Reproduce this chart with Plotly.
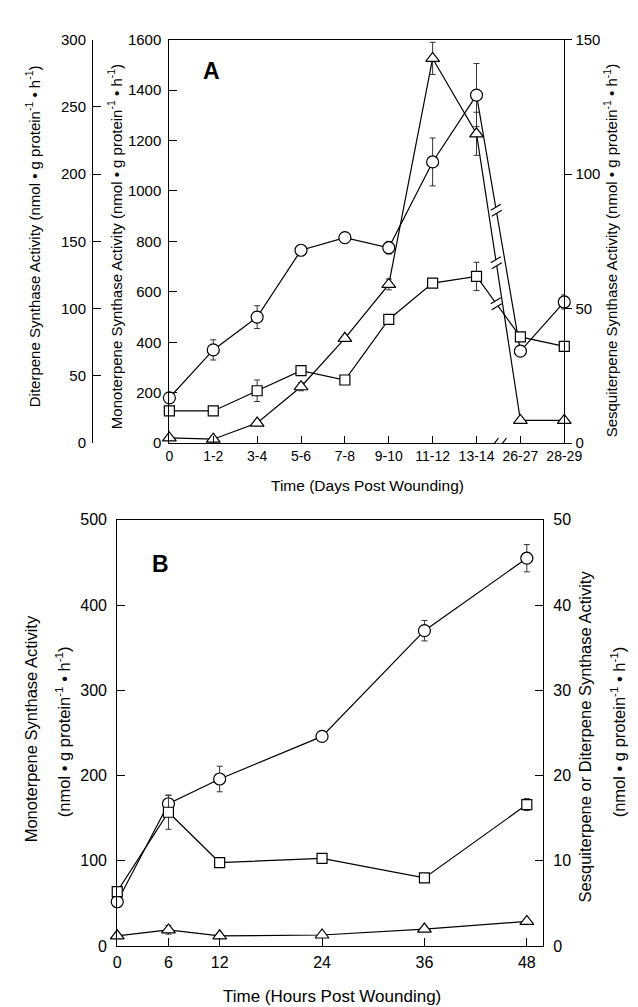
import plotly.graph_objects as go

# ---------------- data ----------------
days = ["0", "1-2", "3-4", "5-6", "7-8", "9-10", "11-12", "13-14", "26-27", "28-29"]
mono_A = [180, 370, 500, 765, 815, 775, 1115, 1380, 365, 560]
mono_A_err = [0, 40, 45, 0, 0, 25, 95, 125, 0, 28]
sesqui_A = [2, 1.5, 7.5, 21, 39, 59, 143, 115, 8.5, 8.5]
sesqui_A_err = [0, 0, 0, 1.5, 0, 2, 6, 8, 0, 0]
diter_A = [24, 24, 39, 54, 47, 92, 119, 124, 79, 72]
diter_A_err = [0, 0, 8, 0, 0, 0, 3, 10.5, 0, 0]

hours = [0, 6, 12, 24, 36, 48]
mono_B = [52, 167, 196, 246, 370, 455]
mono_B_err = [0, 10, 15, 0, 12, 16]
diter_B = [6.4, 15.7, 9.8, 10.3, 8.0, 16.6]
diter_B_err = [0, 2.0, 0, 0, 0, 0.7]
sesqui_B = [1.2, 1.9, 1.2, 1.3, 2.0, 2.9]
sesqui_B_err = [0, 0.5, 0, 0, 0.3, 0]

W, H = 638, 1007
FONT = "Liberation Sans, Arial, Helvetica, sans-serif"
UNIT = "(nmol • g protein<sup>-1</sup> • h<sup>-1</sup>)"


def px(x):
    return x / W


def py(y):
    return 1 - y / H


xi = list(range(len(days)))

fig = go.Figure()


def add(x, y, err, sym, xa, ya, name, size=10):
    fig.add_trace(go.Scatter(
        x=x, y=y, name=name, xaxis=xa, yaxis=ya, mode="lines+markers",
        line=dict(color="black", width=1.2),
        marker=dict(symbol=sym, size=size, color="white",
                    line=dict(color="black", width=1.2)),
        error_y=dict(type="data", array=err, visible=True, color="#333",
                     thickness=1, width=3),
        cliponaxis=False, showlegend=False))


# Panel A
add(xi, mono_A, mono_A_err, "circle", "x", "y", "Monoterpene", 12)
add(xi, diter_A, diter_A_err, "square", "x", "y2", "Diterpene", 10)
add(xi, sesqui_A, sesqui_A_err, "triangle-up", "x", "y3", "Sesquiterpene", 12)
# Panel B
add(hours, mono_B, mono_B_err, "circle", "x2", "y4", "Monoterpene", 12)
add(hours, diter_B, diter_B_err, "square", "x2", "y5", "Diterpene", 10)
add(hours, sesqui_B, sesqui_B_err, "triangle-up", "x2", "y5", "Sesquiterpene", 12)


def tf(size):
    return dict(family=FONT, size=size, color="black")


axcommon = dict(showgrid=False, zeroline=False, showline=True, linecolor="black",
                linewidth=1.2, tickcolor="black", tickwidth=1.2)

domA_x = [px(163), px(572)]
domA_y = [py(434), py(23)]
domB_x = [px(109), px(550)]
domB_y = [py(946), py(512)]

fig.update_layout(
    width=W, height=H, autosize=False,
    margin=dict(l=0, r=0, t=0, b=0),
    paper_bgcolor="white", plot_bgcolor="white",
    font=dict(family=FONT, color="black"),
    xaxis=dict(**axcommon, domain=domA_x, anchor="y", range=[0, len(days) - 1],
               tickvals=xi, ticktext=days, ticks="inside", ticklen=7, mirror=True,
               tickfont=tf(14), ticklabelstandoff=0),
    yaxis=dict(**axcommon, domain=domA_y, anchor="x", range=[0, 1600], dtick=200,
               ticks="inside", ticklen=8, ticklabelstandoff=4, tickfont=tf(15)),
    yaxis2=dict(**axcommon, overlaying="y", anchor="free", position=px(83),
                side="left", range=[0, 300], dtick=50, ticks="inside", ticklen=8,
                ticklabelstandoff=3, tickfont=tf(15)),
    yaxis3=dict(**axcommon, overlaying="y", anchor="x", side="right",
                range=[0, 150], dtick=50, ticks="outside", ticklen=7, tickfont=tf(15)),
    xaxis2=dict(**axcommon, domain=domB_x, anchor="y4", range=[0, 49.9],
                tickvals=hours, ticks="inside", ticklen=8, mirror=True,
                tickfont=tf(16), ticklabelstandoff=2),
    yaxis4=dict(**axcommon, domain=domB_y, anchor="x2", range=[0, 500], dtick=100,
                ticks="inside", ticklen=8, tickfont=tf(16), ticklabelstandoff=6),
    yaxis5=dict(**axcommon, overlaying="y4", anchor="x2", side="right",
                range=[0, 50], dtick=10, ticks="inside", ticklen=8, tickfont=tf(16),
                ticklabelstandoff=6),
)

ann = []


def label(text, x, y, angle=0, size=13, bold=False):
    ann.append(dict(text=f"<b>{text}</b>" if bold else text, x=px(x), y=py(y),
                    xref="paper", yref="paper", showarrow=False, textangle=angle,
                    font=dict(family=FONT, size=size, color="black"),
                    xanchor="center", yanchor="middle"))


label("A", 207, 55, size=23, bold=True)
label("B", 154, 557, size=23, bold=True)
label("Time (Days Post Wounding)", 368, 477, size=15.5)
label("Time (Hours Post Wounding)", 331, 997, size=17)
label("Diterpene Synthase Activity " + UNIT, 21, 223, angle=-90, size=15)
label("Monoterpene Synthase Activity " + UNIT, 107, 234, angle=-90, size=15)
label("Sesquiterpene Synthase Activity " + UNIT, 620, 238, angle=-90, size=15)
label("Monoterpene Synthase Activity", 20, 725, angle=-90, size=16.5)
label(UNIT, 53, 728, angle=-90, size=16.5)
label("Sesquiterpene or Diterpene Synthase Activity", 593, 733, angle=-90, size=16.5)
label(UNIT, 628, 728, angle=-90, size=16.5)
fig.update_layout(annotations=ann)

# break marks
shapes = []


def slash(xa, ya, xv, yv, dx, dy, hw=5, hh=5):
    shapes.append(dict(type="line", xref=xa, yref=ya, xsizemode="pixel",
                       ysizemode="pixel", xanchor=xv, yanchor=yv,
                       x0=dx - hw, x1=dx + hw, y0=dy - hh, y1=dy + hh,
                       line=dict(color="black", width=1.2), layer="above"))


bx = 7.45
for series, ya in ((mono_A, "y"), (sesqui_A, "y3"), (diter_A, "y2")):
    f = bx - 7
    yv = series[7] + (series[8] - series[7]) * f
    shapes.append(dict(type="line", xref="x", yref=ya, xsizemode="pixel",
                       ysizemode="pixel", xanchor=bx, yanchor=yv,
                       x0=-0.5, x1=0.5, y0=3, y1=-3,
                       line=dict(color="white", width=3), layer="above"))
    slash("x", ya, bx, yv, -0.5, 3, hw=5, hh=3)
    slash("x", ya, bx, yv, 0.5, -3, hw=5, hh=3)

# axis break
shapes.append(dict(type="line", xref="x", yref="y", xsizemode="pixel",
                   ysizemode="pixel", xanchor=7.5, yanchor=0,
                   x0=-3, x1=3, y0=0, y1=0,
                   line=dict(color="white", width=3), layer="above"))
slash("x", "y", 7.5, 0, -4, 0, hw=4, hh=5)
slash("x", "y", 7.5, 0, 4, 0, hw=4, hh=5)
fig.update_layout(shapes=shapes)

fig.write_html("out.html")
